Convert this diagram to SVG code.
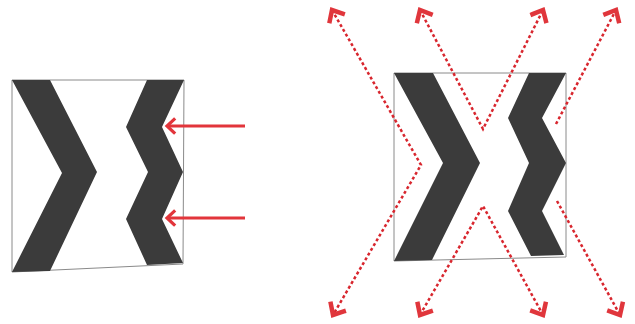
<svg xmlns="http://www.w3.org/2000/svg" width="635" height="324" viewBox="0 0 635 324">
<defs>
<style>
.frame{fill:#ffffff;stroke:#8a8a8a;stroke-width:1}
.shape{fill:#3b3b3b}
.solid{fill:none;stroke:#e2353b;stroke-width:3}
.dash{fill:none;stroke:#d8262e;stroke-width:2.5;stroke-dasharray:3 2.5}
</style>
<marker id="ah" viewBox="-12 -10 16 20" markerWidth="16" markerHeight="20" refX="0" refY="0" orient="auto-start-reverse" markerUnits="userSpaceOnUse">
<path d="M -7 -6.5 L 0 0 L -7 6.5" fill="none" stroke="#e2353b" stroke-width="3.2" stroke-linecap="square"/>
</marker>
<marker id="ahd" viewBox="-13 -11 18 22" markerWidth="18" markerHeight="22" refX="0" refY="0" orient="auto-start-reverse" markerUnits="userSpaceOnUse">
<path d="M -8.5 -7.5 L 0 0 L -8.5 7.5" fill="none" stroke="#e0363c" stroke-width="4.5" stroke-linecap="square"/>
</marker>
</defs>
<rect width="635" height="324" fill="#ffffff"/>

<g id="left-sign">
<polygon class="frame" points="12,80 184,80 183,264 12,272"/>
<polygon class="shape" points="12,80 50,80 97,172 50,271 12,272 62,173"/>
<polygon class="shape" points="147,80 184,80 162,127 183,172 162,219 183,263 147,265 126,219 148,172 126,127"/>
</g>

<g id="right-sign">
<polygon class="frame" points="394,73 566,73 566,257 394,261"/>
<polygon class="shape" points="394,73 433,73 480,163 432,260 394,261 443,163"/>
<polygon class="shape" points="529,73 566,73 542,118 566,163 542,211 564,255 531,256 508,211 529,163 508,118"/>
</g>

<g id="connectors">
<line class="solid" x1="245" y1="126" x2="167" y2="126" marker-end="url(#ah)"/>
<line class="solid" x1="245" y1="218" x2="167" y2="218" marker-end="url(#ah)"/>
<polyline class="dash" points="332,10 421,165 333,315" marker-start="url(#ahd)" marker-end="url(#ahd)"/>
<polyline class="dash" points="420,10 483,129 543,10" marker-start="url(#ahd)" marker-end="url(#ahd)"/>
<polyline class="dash" points="420,315 483,206 543,315" marker-start="url(#ahd)" marker-end="url(#ahd)"/>
<line class="dash" x1="556" y1="124" x2="616" y2="10" marker-end="url(#ahd)"/>
<line class="dash" x1="557" y1="201" x2="620" y2="315" marker-end="url(#ahd)"/>
</g>
</svg>
